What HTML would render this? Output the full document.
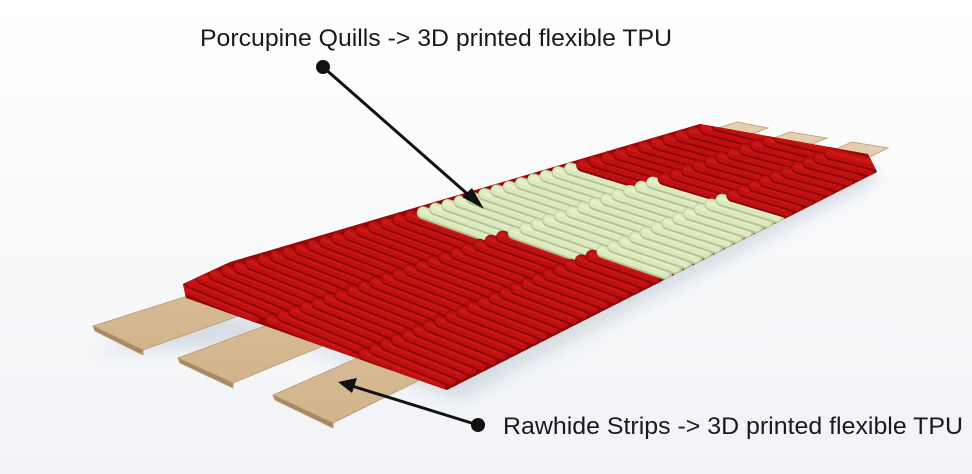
<!DOCTYPE html>
<html><head><meta charset="utf-8"><style>
html,body{margin:0;padding:0;background:#fafbfc;}
svg{display:block;}
</style></head><body>
<svg id="s" width="972" height="474" viewBox="0 0 972 474" xmlns="http://www.w3.org/2000/svg">
<defs>
<linearGradient id="bg" x1="0" y1="0" x2="0" y2="1">
<stop offset="0" stop-color="#ffffff"/><stop offset="1" stop-color="#f1f3f6"/></linearGradient>
<filter id="blur"><feGaussianBlur stdDeviation="8"/></filter>
<linearGradient id="wood" x1="0" y1="0" x2="0" y2="1">
<stop offset="0" stop-color="#e6cfae"/><stop offset="1" stop-color="#d2b48c"/></linearGradient>
<clipPath id="wrapc"><polygon points="183,284 230,262 700,124 868,154 877,172 447,390 186,298"/></clipPath>
</defs>
<rect width="972" height="474" fill="url(#bg)"/>
<polygon points="100,350 300,345 460,400 880,180 860,165 440,375 200,305" fill="#c9d2dc" opacity="0.7" filter="url(#blur)"/>
<g fill="url(#wood)" stroke="#b89a72" stroke-width="0.8">
<polygon points="93,326 737,122 768,128 143,350"/>
<polygon points="93,326 143,350 143,355 95,331" fill="#a88a62"/>
<polygon points="178,358 790,132 827,138 233,383"/>
<polygon points="178,358 233,383 233,388 180,363" fill="#a88a62"/>
<polygon points="273,395 852,142 888,148 333,423"/>
<polygon points="273,395 333,423 333,428 275,400" fill="#a88a62"/>
</g>
<g clip-path="url(#wrapc)">
<rect x="150" y="100" width="760" height="320" fill="#9a0808"/>
<g id="ridges"></g>
</g>
<text x="200" y="46" font-family="Liberation Sans, sans-serif" font-size="24" fill="#1a1a1a" textLength="472" lengthAdjust="spacingAndGlyphs">Porcupine Quills -&gt; 3D printed flexible TPU</text>
<text x="503" y="434" font-family="Liberation Sans, sans-serif" font-size="24" fill="#1a1a1a" textLength="460" lengthAdjust="spacingAndGlyphs">Rawhide Strips -&gt; 3D printed flexible TPU</text>
<circle cx="323" cy="67" r="7" fill="#111"/>
<line x1="323" y1="67" x2="472" y2="198" stroke="#111" stroke-width="3"/>
<polygon points="484,209 462,197 472,188" fill="#111"/>
<circle cx="478" cy="425" r="7" fill="#111"/>
<line x1="478" y1="425" x2="352" y2="386" stroke="#111" stroke-width="3"/>
<polygon points="338,382 357,378 352,393" fill="#111"/>
</svg>
<script>
var g=document.getElementById('ridges');
function L(a,b,t){return [a[0]+(b[0]-a[0])*t,a[1]+(b[1]-a[1])*t];}
var B0=[185,280],B1=[702,128],F0=[447,388],F1=[873,172];
var N=42,h='';
function green(t,k){var lo=0.45+0.06*k/2, hi=0.76+0.03*k/2; return t>=lo&&t<=hi;}
for(var k=0;k<3;k++){
 var off=(k%2)*0.5;
 for(var i=-1;i<=N+1;i++){var t=(i+off)/N;
  var p=L(B0,B1,t),q=L(F0,F1,t);
  var a=L(p,q,k/3+0.02),b=L(p,q,(k+1)/3-0.02);
  var gr=green(t,k);
  var dark=gr?'#b5c39a':'#8c0707', mid=gr?'#dbe9bb':'#bf0f10', hi=gr?'#eff8dc':'#d42420';
  h+='<line x1="'+a[0]+'" y1="'+a[1]+'" x2="'+b[0]+'" y2="'+b[1]+'" stroke="'+dark+'" stroke-width="13" stroke-linecap="round"/>';
  h+='<line x1="'+(a[0]-0.8)+'" y1="'+(a[1]-0.8)+'" x2="'+(b[0]-0.8)+'" y2="'+(b[1]-0.8)+'" stroke="'+mid+'" stroke-width="10" stroke-linecap="round"/>';
  h+='<line x1="'+(a[0]-2)+'" y1="'+(a[1]-2)+'" x2="'+(b[0]-2)+'" y2="'+(b[1]-2)+'" stroke="'+hi+'" stroke-opacity="0.45" stroke-width="3.5" stroke-linecap="round"/>';
 }}
g.innerHTML=h;
</script>
</body></html>
